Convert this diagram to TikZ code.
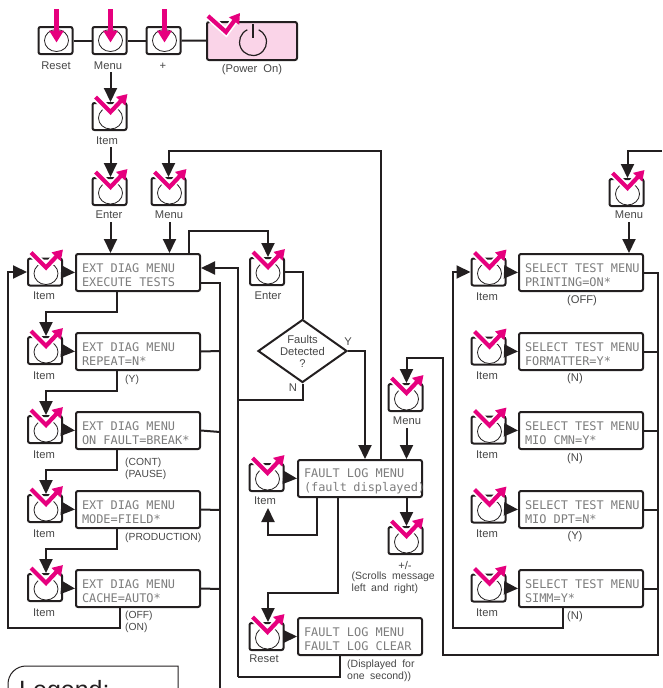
\documentclass[tikz,border=0pt]{standalone}
\usepackage{fontspec}
\setmainfont{Liberation Sans}
\setmonofont{DejaVu Sans Mono}
\usetikzlibrary{arrows.meta,shapes.geometric,calc}
\definecolor{hot}{RGB}{230,0,126}
\definecolor{pale}{RGB}{250,212,232}
\definecolor{ink}{RGB}{35,31,32}
\definecolor{lcd}{RGB}{125,125,125}
\definecolor{lab}{RGB}{70,70,70}
\newcommand{\lsp}{\hspace{7.15pt}}
\newcommand{\twoline}[2]{\mbox{\rule{0pt}{14pt}#1}\\\mbox{#2}}
\tikzset{
  btnbox/.style={draw=ink,line width=2pt,rounded corners=2pt,minimum width=34pt,minimum height=27pt,inner sep=0pt,fill=white},
  lcdbox/.style={draw=ink,line width=2pt,rounded corners=2pt,minimum width=124pt,minimum height=37pt,inner sep=0pt,inner xsep=6pt,fill=white,align=left,text=lcd,font=\ttfamily\fontsize{11.9}{14.3}\selectfont,text width=112pt},
  lbl/.style={text=lab,font=\fontsize{11.2}{12}\selectfont,inner sep=0pt,align=center},
  lbll/.style={lbl,align=left,anchor=west},
  opt/.style={lbll,font=\fontsize{10.3}{12}\selectfont},
  wire/.style={draw=ink,line width=2pt},
  arr/.style={wire,-{Triangle[length=14pt,width=13pt]}},
  ring/.style={draw=ink,line width=.8pt},
  dia/.style={draw=ink,line width=2pt,diamond,aspect=1.41,minimum width=89pt,minimum height=63pt,inner sep=0pt},
  halo/.style={draw=white,line width=7.5pt},
  chk/.style={draw=hot,line width=4.2pt,-{Triangle[length=10pt,width=12pt]}},
}
\newcommand{\tick}[1]{%
  \draw[ring] ($(#1.south)+(1,-13)$) ellipse (12pt and 11pt);
  \draw[halo] ($(#1.south west)+(4,-34)$) -- ($(#1.south west)+(19,-19)$) -- ($(#1.south west)+(32,-33)$);
  \draw[chk] ($(#1.south west)+(4,-34)$) -- ($(#1.south west)+(19,-19)$) -- ($(#1.south west)+(36,-37)$);
}
\newcommand{\press}[1]{%
  \draw[ring] ($(#1.center)+(1,0)$) ellipse (12pt and 11pt);
  \draw[draw=hot,line width=4.2pt,-{Triangle[length=12pt,width=14pt]}] ($(#1.north)+(1,-17)$) -- ($(#1.center)+(1,2)$);
}
\begin{document}
\begin{tikzpicture}[x=1pt,y=-1pt]
\useasboundingbox (0,0) rectangle (662,688);
\clip (0,0) rectangle (662,688);

% top row
\node[btnbox] (rst) at (55.5,40.5) {};
\node[btnbox] (mn0) at (109.5,40.5) {};
\node[btnbox] (pls) at (163.5,40.5) {};
\node[draw=ink,line width=2pt,rounded corners=2pt,fill=pale,minimum width=90pt,minimum height=38pt,inner sep=0pt] (pwr) at (252,41) {};
\draw[wire] (rst) -- (mn0);
\draw[wire] (mn0) -- (pls);
\draw[wire] (pls) -- (pwr);
\press{rst}\press{mn0}\press{pls}
\draw[draw=ink,line width=1.2pt] (247.3,29.8) arc[start angle=115,end angle=425,radius=13.5pt];
\draw[draw=ink,line width=1.2pt] (253,24) -- (253,38);
\draw[halo] (208,16) -- (226,32) -- (237,17);
\draw[chk] (208,16) -- (226,32) -- (240,13);
\node[lbl] (lrst) at (56,66) {Reset};
\node[lbl] (lmn0) at (108,66) {Menu};
\node[lbl] (lpls) at (163,66) {+};
\node[lbl] (lpwr) at (252,70) {(Power\hspace{6pt}On)};

% buttons
\node[btnbox] (it0) at (109.5,116.5) {};
\node[btnbox] (ent) at (109.5,191.5) {};
\node[btnbox] (mn1) at (168.5,191.5) {};
\node[btnbox] (i1) at (45,272) {};
\node[btnbox] (i2) at (45,350.5) {};
\node[btnbox] (i3) at (45,429.5) {};
\node[btnbox] (i4) at (45,508.5) {};
\node[btnbox] (i5) at (45,587.5) {};
\node[btnbox] (ent2) at (267,271.5) {};
\node[btnbox] (ifl) at (266.5,477.5) {};
\node[btnbox] (rfl) at (266.5,636.5) {};
\node[btnbox] (mn2) at (405.5,397.5) {};
\node[btnbox] (pm) at (405.5,540.5) {};
\node[btnbox] (mn3) at (626.5,192.5) {};
\node[btnbox] (s1) at (488.5,272) {};
\node[btnbox] (s2) at (488.5,351) {};
\node[btnbox] (s3) at (488.5,430) {};
\node[btnbox] (s4) at (488.5,509) {};
\node[btnbox] (s5) at (488.5,588) {};
\foreach \n in {it0,ent,mn1,i1,i2,i3,i4,i5,ent2,ifl,rfl,mn2,pm,mn3,s1,s2,s3,s4,s5}{\tick{\n}}

\node[lbl] (lit0) at (107,141) {Item};
\node[lbl] (lent) at (109,215) {Enter};
\node[lbl] (lmn1) at (169,215) {Menu};
\node[lbl] (li1) at (44,296) {Item};
\node[lbl] (li2) at (44,376) {Item};
\node[lbl] (li3) at (44,455) {Item};
\node[lbl] (li4) at (44,534) {Item};
\node[lbl] (li5) at (44,613) {Item};
\node[lbl] (lent2) at (268,296) {Enter};
\node[lbl] (lifl) at (265,501) {Item};
\node[lbl] (lrfl) at (264,659) {Reset};
\node[lbl] (lmn2) at (407,421) {Menu};
\node[lbl] (lpm) at (405,565) {+/-};
\node[opt,anchor=north west,font=\fontsize{10.5}{12}\selectfont] (lpm2) at (351.5,572) {(Scrolls\hspace{5.5pt}message\\left\hspace{5.5pt}and\hspace{5.5pt}right)};
\node[lbl] (lmn3) at (629,215) {Menu};
\node[lbl] (ls1) at (487,297) {Item};
\node[lbl] (ls2) at (487,376) {Item};
\node[lbl] (ls3) at (487,455) {Item};
\node[lbl] (ls4) at (487,534) {Item};
\node[lbl] (ls5) at (487,613) {Item};

% LCD boxes
\node[lcdbox] (e1) at (138,272.5) {\twoline{EXT\lsp DIAG\lsp MENU}{EXECUTE\lsp TESTS}};
\node[lcdbox] (e2) at (138,351.5) {\twoline{EXT\lsp DIAG\lsp MENU}{REPEAT=N*}};
\node[lcdbox] (e3) at (138,430.5) {\twoline{EXT\lsp DIAG\lsp MENU}{ON\lsp FAULT=BREAK*}};
\node[lcdbox] (e4) at (138,509.5) {\twoline{EXT\lsp DIAG\lsp MENU}{MODE=FIELD*}};
\node[lcdbox] (e5) at (138,588.5) {\twoline{EXT\lsp DIAG\lsp MENU}{CACHE=AUTO*}};
\node[lcdbox] (f1) at (360,478.5) {\twoline{FAULT\lsp LOG\lsp MENU}{(fault\hspace{6.5pt}displayed)}};
\node[lcdbox] (f2) at (360,636.5) {\twoline{FAULT\lsp LOG\lsp MENU}{FAULT\lsp LOG\lsp CLEAR}};
\node[lcdbox] (t1) at (581,272.5) {\twoline{SELECT\lsp TEST\lsp MENU}{PRINTING=ON*}};
\node[lcdbox] (t2) at (581,351.5) {\twoline{SELECT\lsp TEST\lsp MENU}{FORMATTER=Y*}};
\node[lcdbox] (t3) at (581,430.5) {\twoline{SELECT\lsp TEST\lsp MENU}{MIO\lsp CMN=Y*}};
\node[lcdbox] (t4) at (581,509.5) {\twoline{SELECT\lsp TEST\lsp MENU}{MIO\lsp DPT=N*}};
\node[lcdbox] (t5) at (581,588.5) {\twoline{SELECT\lsp TEST\lsp MENU}{SIMM=Y*}};

% option labels
\node[opt] (o2) at (125,380) {(Y)};
\node[opt,anchor=north west] (o3) at (125,458) {(CONT)\\(PAUSE)};
\node[opt] (o4) at (125,538) {(PRODUCTION)};
\node[opt,anchor=north west] (o5) at (125,611) {(OFF)\\(ON)};
\node[lbl] (p1) at (582,301) {(OFF)};
\node[lbl] (p2) at (575,379) {(N)};
\node[lbl] (p3) at (575,459) {(N)};
\node[lbl] (p4) at (575,537) {(Y)};
\node[lbl] (p5) at (575,617) {(N)};
\node[opt,anchor=north west,font=\fontsize{10.5}{12}\selectfont] (dsp) at (347,660) {(Displayed\hspace{5.5pt}for\\one\hspace{5.5pt}second))};

% decision
\node[dia] (dec) at (302.5,351) {};
\node[lbl] (dect) at (302.5,351) {Faults\\Detected\\?};
\node[lbl] (yy) at (348,342) {Y};
\node[lbl] (nn) at (293,388) {N};

\coordinate (offr) at (662,151);
\coordinate (busA) at (220,688);

% connectors
\draw[arr] ([xshift=1pt]it0.north |- lmn0.south) ++(0,2) -- ([xshift=1pt]it0.north);
\draw[arr] ([xshift=1pt]ent.north |- lit0.south) ++(0,2) -- ([xshift=1pt]ent.north);
\draw[arr] ([xshift=1pt]ent.south |- lent.south) ++(0,3) -- ([xshift=1pt]ent.south |- e1.north);
\draw[arr] ([xshift=1pt]mn1.south |- lmn1.south) ++(0,3) -- ([xshift=1pt]mn1.south |- e1.north);
\draw[arr] ([xshift=21pt]f1.north) |- (mn1.north |- 0,151) -- (mn1.north);
\draw[arr] ([xshift=51pt]e1.north) |- (268,231) -- (ent2.north -| 268,0);
\draw[wire] (ent2.east) -| (dec.north);
\draw[arr] (dec.east) -| (f1.north -| 365,0);
\draw[wire] (dec.south) ++(0.5,0) |- (238,400);
\draw[arr] (238,677) -- (238,268) -- (e1.east |- 0,268);
\draw[wire] (f2.south -| 340,0) |- (238,677);
\draw[wire] (e1.east |- 0,283) -| (busA);
\foreach \n/\y in {e2/351,e3/432,e4/510,e5/589}{\draw[wire] (\n.east) -- (220,\y);}
\foreach \a/\b/\c in {i1/e1/i2,i2/e2/i3,i3/e3/i4,i4/e4/i5}{
  \draw[arr] ([xshift=-21pt]\b.south) -- ++(0,20) -| ([xshift=1pt]\c.north);
}
\foreach \a/\b in {i1/e1,i2/e2,i3/e3,i4/e4,i5/e5,ifl/f1,rfl/f2,s1/t1,s2/t2,s3/t3,s4/t4,s5/t5}{
  \draw[arr] (\a.east) -- (\b.west);
}
\draw[arr] ([xshift=-18pt]e5.south) -- (120,628) -| (8,272) -- (i1.west);
\draw[arr] ([xshift=1pt]mn2.south |- lmn2.south) ++(0,3) -- ([xshift=1pt]mn2.south |- f1.north);
\draw[arr] ([xshift=1pt]pm.north |- f1.south) -- ([xshift=1pt]pm.north);
\draw[arr] ([xshift=-43pt]f1.south) |- (268,535) -- (268,508);
\draw[arr] ([xshift=-22pt]f1.south) |- (268,593) -- (rfl.north -| 268,0);
\draw[arr] (t1.east) -| (658,655) -| (443,358) -| ([xshift=1pt]mn2.north);
\foreach \n in {t2,t3,t4,t5}{\draw[wire] (\n.east) -- (\n.east -| 658,0);}
\draw[arr] ([xshift=-18pt]t5.south) |- (453,628) |- (s1.west);
\draw[arr] (offr) -| ([xshift=1pt]mn3.north);
\draw[arr] (lmn3.south) ++(0,3) -- (lmn3.south |- t1.north);

% legend
\draw[ink,line width=1pt] (8,700) -- (8,684) arc[start angle=180,end angle=90,radius=18pt] -- (178,666) -- (178,700);
\node[text=ink,font=\fontsize{25}{28}\selectfont,anchor=base west,inner sep=0pt] (leg) at (19,698) {Legend:};
\end{tikzpicture}
\end{document}
